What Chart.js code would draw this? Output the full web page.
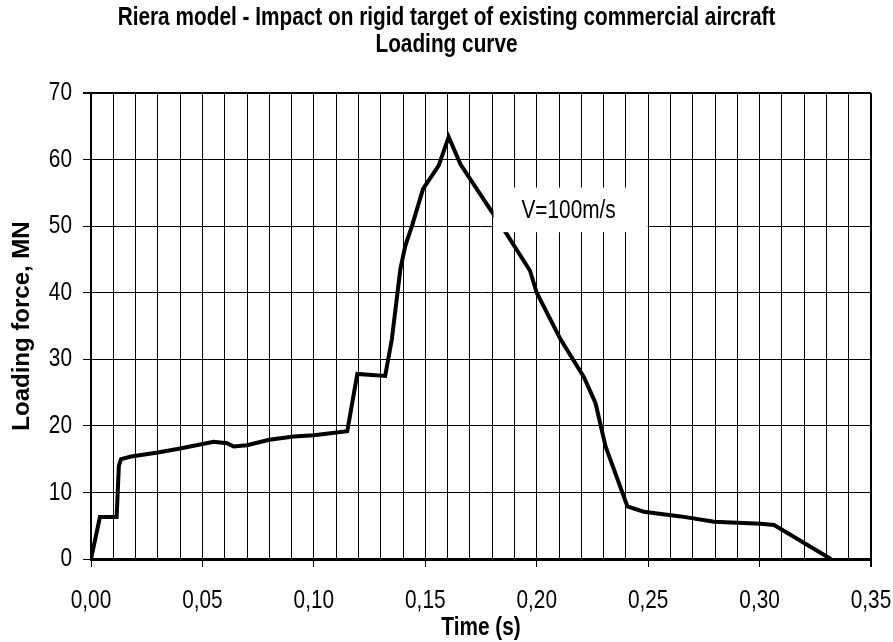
<!DOCTYPE html>
<html>
<head>
<meta charset="utf-8">
<script src="https://cdn.jsdelivr.net/npm/chart.js@4/dist/chart.umd.min.js"></script>
<style>
  body { margin: 0; background: #fff; }
  canvas { display: block; }
</style>
</head>
<body>
<canvas id="loadChart" width="893" height="642"></canvas>
<script>
// time (s) and loading force (MN)
var times = [0, 0.004, 0.0115, 0.0125, 0.0135, 0.018, 0.03, 0.04, 0.055, 0.061, 0.064, 0.07, 0.08, 0.091, 0.1, 0.115,
  0.1195, 0.132, 0.135, 0.1388, 0.141, 0.144, 0.149, 0.156, 0.1605, 0.1658, 0.179, 0.186, 0.197, 0.2, 0.2107,
  0.2212, 0.2264, 0.2309, 0.2407, 0.248, 0.2646, 0.2796, 0.3005, 0.3065, 0.332]
var forces = [0, 6.3, 6.3, 14.0, 15.0, 15.4, 16.0, 16.6, 17.6, 17.4, 16.9, 17.1, 17.9, 18.4, 18.6, 19.2,
  27.8, 27.5, 33, 43.5, 47, 50, 55.6, 59.1, 63.4, 59.3, 52.6, 49.1, 43.3, 40.0, 33.0,
  27.3, 23.4, 16.9, 7.9, 7.1, 6.4, 5.6, 5.3, 5.1, 0]

var titleLines = ['Riera model - Impact on rigid target of existing commercial aircraft', 'Loading curve']
var xTitle = 'Time (s)'
var yTitle = 'Loading force, MN'
var speedLabel = 'V=100m/s'

// no Arial Narrow here, so Liberation Sans gets squeezed when this family is asked for
var narrow = '"Liberation Sans Narrow", "Liberation Sans", Arial, sans-serif'
var squeeze = 0.8

var points = []
for (var i = 0; i < times.length; i++) {
  points.push({ x: times[i], y: forces[i] })
}

function isMajor(v) {
  return Math.abs(Math.round(v * 100) % 5) === 0
}

var ctx = document.getElementById('loadChart').getContext('2d')

var plainFillText = ctx.fillText
ctx.fillText = function(text, x, y, maxWidth) {
  if (this.font.indexOf('Narrow') < 0) {
    return plainFillText.apply(this, arguments)
  }
  this.save()
  this.translate(x, y)
  this.scale(squeeze, 1)
  plainFillText.call(this, text, 0, 0)
  this.restore()
}

// white box with the speed text, sitting over the grid and curve
var speedLabelPlugin = {
  id: 'speedLabel',
  afterDatasetsDraw: function(chart) {
    var c = chart.ctx
    var xs = chart.scales.x
    var ys = chart.scales.y
    var left = xs.getPixelForValue(0.1806)
    var right = xs.getPixelForValue(0.2498)
    var top = ys.getPixelForValue(55.8)
    var bottom = ys.getPixelForValue(49.1)
    c.save()
    c.fillStyle = '#fff'
    c.fillRect(left, top, right - left, bottom - top)
    c.fillStyle = '#000'
    c.font = '26px ' + narrow
    c.textAlign = 'center'
    c.textBaseline = 'middle'
    c.fillText(speedLabel, (left + right) / 2 - 2, (top + bottom) / 2 + 1)
    c.restore()
  }
}

var loadChart = new Chart(ctx, {
  type: 'line',
  data: {
    datasets: [{
      data: points,
      borderColor: '#000',
      borderWidth: 4,
      pointRadius: 0,
      fill: false,
      tension: 0
    }]
  },
  options: {
    responsive: false,
    animation: false,
    layout: { padding: 0 },
    plugins: {
      legend: { display: false },
      tooltip: { enabled: false },
      title: {
        display: true,
        text: titleLines,
        color: '#000',
        font: { family: narrow, size: 26, weight: 'bold', lineHeight: 1.05 },
        padding: { top: 4, bottom: 34.4 }
      }
    },
    scales: {
      x: {
        type: 'linear',
        min: 0,
        max: 0.35,
        afterFit: function(scale) {
          scale.height = 83
          scale.paddingLeft = 0
          scale.paddingRight = 22
        },
        ticks: {
          stepSize: 0.01,
          autoSkip: false,
          maxRotation: 0,
          color: '#000',
          padding: 18,
          font: { family: narrow, size: 26 },
          callback: function(value) {
            return isMajor(value) ? value.toFixed(2).replace('.', ',') : ''
          }
        },
        grid: {
          color: '#000',
          lineWidth: function(c) { return c.tick && Math.abs(c.tick.value - 0.35) < 1e-6 ? 2 : 1 },
          tickLength: 8,
          tickColor: function(c) { return c.tick && isMajor(c.tick.value) ? '#000' : 'rgba(0,0,0,0)' }
        },
        border: { color: '#000', width: 3 },
        title: {
          display: true,
          text: xTitle,
          color: '#000',
          font: { family: narrow, size: 26, weight: 'bold', lineHeight: 1 },
          padding: { top: 0, bottom: 1 }
        }
      },
      y: {
        min: 0,
        max: 70,
        afterFit: function(scale) { scale.width = 91 },
        ticks: {
          stepSize: 10,
          color: '#000',
          padding: 11,
          font: { family: narrow, size: 26 }
        },
        grid: {
          color: '#000',
          lineWidth: function(c) { return c.tick && c.tick.value === 70 ? 2 : 1 },
          tickLength: 8,
          tickColor: '#000'
        },
        border: { color: '#000', width: 2 },
        title: {
          display: true,
          text: yTitle,
          color: '#000',
          font: { family: '"Liberation Sans", Arial, sans-serif', size: 24, weight: 'bold', lineHeight: 1.2 },
          padding: { top: 8, bottom: 0 }
        }
      }
    }
  },
  plugins: [speedLabelPlugin]
})
</script>
</body>
</html>
